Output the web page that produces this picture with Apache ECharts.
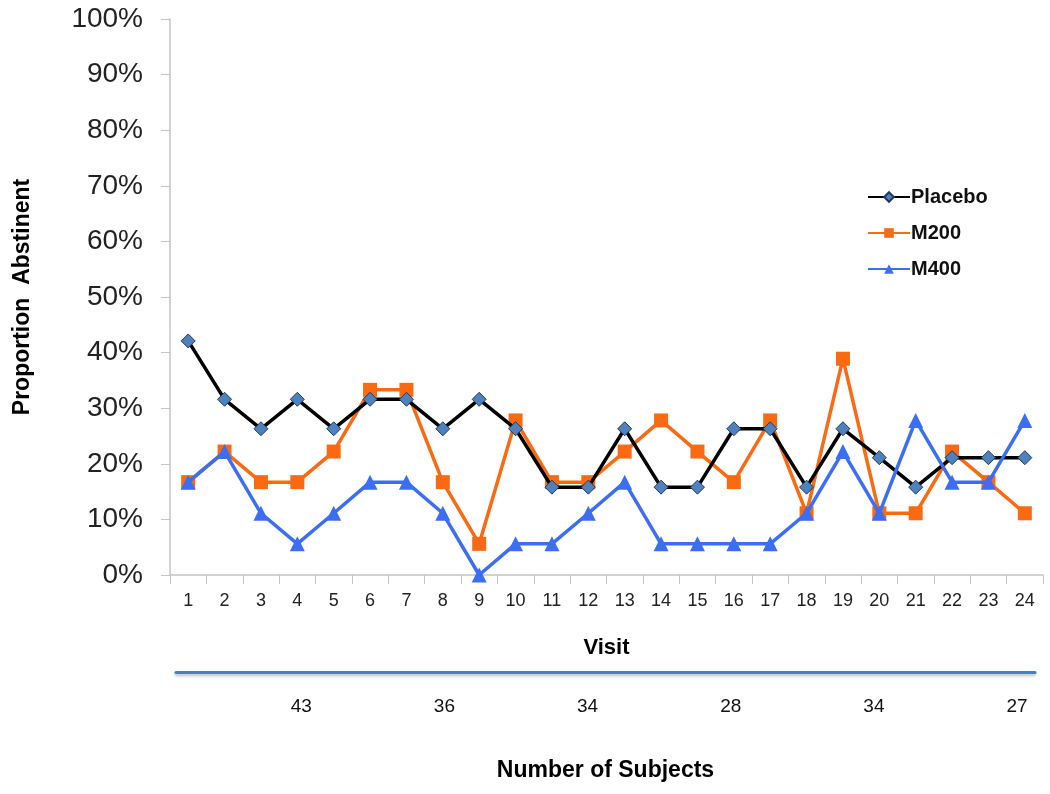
<!DOCTYPE html>
<html><head><meta charset="utf-8">
<script src="https://cdn.jsdelivr.net/npm/echarts@6/dist/echarts.min.js"></script>
<style>html,body{margin:0;padding:0;background:#fff}#c{width:1050px;height:794px}</style>
</head><body><div id="c"></div>
<script>
const visits = ['1','2','3','4','5','6','7','8','9','10','11','12','13','14','15','16','17','18','19','20','21','22','23','24'];
const placebo = [42.1,31.6,26.3,31.6,26.3,31.6,31.6,26.3,31.6,26.3,15.8,15.8,26.3,15.8,15.8,26.3,26.3,15.8,26.3,21.1,15.8,21.1,21.1,21.1];
const m200 = [16.7,22.2,16.7,16.7,22.2,33.3,33.3,16.7,5.6,27.8,16.7,16.7,22.2,27.8,22.2,16.7,27.8,11.1,38.9,11.1,11.1,22.2,16.7,11.1];
const m400 = [16.7,22.2,11.1,5.6,11.1,16.7,16.7,11.1,0,5.6,5.6,11.1,16.7,5.6,5.6,5.6,5.6,11.1,22.2,11.1,27.8,16.7,16.7,27.8];
const subjectVisits = ['4','8','12','16','20','24'];
const subjectCounts = ['43','36','34','28','34','27'];
const yTicks = [0,10,20,30,40,50,60,70,80,90,100];

const subjLabels = visits.map(v => { const i = subjectVisits.indexOf(v); return i >= 0 ? subjectCounts[i] : ''; });
const font = '"Liberation Sans", Arial, sans-serif';
const chart = echarts.init(document.getElementById('c'));
chart.setOption({
  animation: false,
  backgroundColor: '#fff',
  textStyle: { fontFamily: font },
  legend: {
    orient: 'vertical', left: 862, top: 182, itemWidth: 42, itemHeight: 12, itemGap: 16,
    textStyle: { fontFamily: font, fontSize: 20, fontWeight: 'bold', color: '#111', padding: [0,0,0,-4] },
    data: ['Placebo','M200','M400']
  },
  grid: [
    { left: 170, right: 7, top: 19, bottom: 219, outerBoundsMode: 'none', containLabel: false },
    { left: 176, right: 15, top: 671, height: 1, outerBoundsMode: 'none', containLabel: false }
  ],
  xAxis: [
    { type: 'category', data: visits, gridIndex: 0, boundaryGap: true,
      name: 'Visit', nameLocation: 'middle', nameGap: 62,
      nameTextStyle: { fontFamily: font, fontSize: 22, fontWeight: 'bold', color: '#000' },
      axisLine: { lineStyle: { color: '#c4c4c4', width: 1.5 } },
      axisTick: { show: true, length: 9, lineStyle: { color: '#c4c4c4' } },
      axisLabel: { fontFamily: font, fontSize: 18, color: '#222', margin: 17 } },
    { type: 'category', data: subjLabels, gridIndex: 1, boundaryGap: true,
      name: 'Number of Subjects', nameLocation: 'middle', nameGap: 87,
      nameTextStyle: { fontFamily: font, fontSize: 23, fontWeight: 'bold', color: '#000' },
      axisLine: { lineStyle: { color: '#4a7ec0', width: 3, shadowColor: 'rgba(0,0,0,0.25)', shadowBlur: 3, shadowOffsetY: 2 } },
      axisTick: { show: false },
      axisLabel: { interval: 0, fontFamily: font, fontSize: 19, color: '#111', margin: 25 } }
  ],
  yAxis: [
    { type: 'value', gridIndex: 0, min: 0, max: 100, interval: 10,
      name: 'Proportion  Abstinent', nameLocation: 'middle', nameGap: 136, nameRotate: 90,
      nameTextStyle: { fontFamily: font, fontSize: 23, fontWeight: 'bold', color: '#000' },
      axisLine: { show: true, lineStyle: { color: '#c4c4c4', width: 1.5 } },
      axisTick: { show: true, length: 9, lineStyle: { color: '#c4c4c4' } },
      splitLine: { show: false },
      axisLabel: { fontFamily: font, fontSize: 28, color: '#222', margin: 27,
        formatter: v => yTicks.includes(v) ? v + '%' : '' } },
    { type: 'value', gridIndex: 1, show: false }
  ],
  series: [
    { name: 'Placebo', type: 'line', data: placebo, symbol: 'diamond', symbolSize: 14,
      lineStyle: { color: '#000', width: 3.5 },
      itemStyle: { color: '#4f81bd', borderColor: '#1f3a5f', borderWidth: 1 }, z: 3 },
    { name: 'M200', type: 'line', data: m200, symbol: 'rect', symbolSize: 14,
      lineStyle: { color: '#fa6a12', width: 3.5 },
      itemStyle: { color: '#fa6a12' }, z: 2 },
    { name: 'M400', type: 'line', data: m400, symbol: 'triangle', symbolSize: 15,
      lineStyle: { color: '#3b6ef2', width: 3.5 },
      itemStyle: { color: '#3b6ef2' }, z: 4 }
  ]
});
</script></body></html>
